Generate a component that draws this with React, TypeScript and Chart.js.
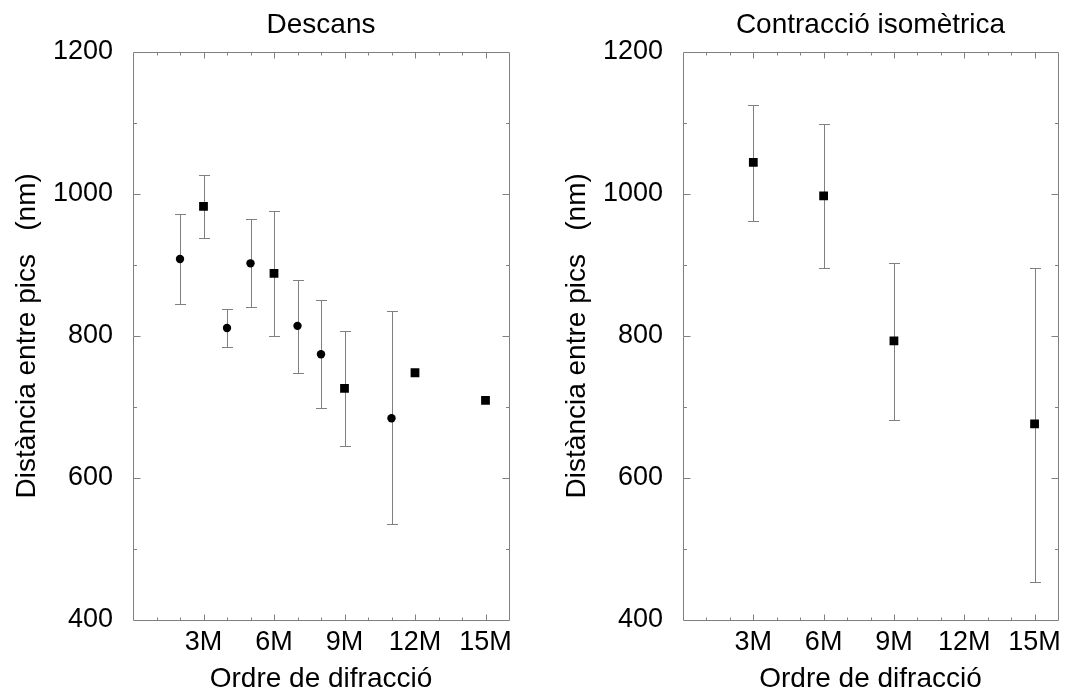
import React, { useEffect, useRef } from "react";
import { Chart, registerables } from "chart.js";

Chart.register(...registerables);

const FONT = "'Liberation Sans', Arial, Helvetica, sans-serif";

// Axis definitions
const xMin = 0;
const xMax = 16;
const xMinorStep = 1;
const xTickValues = [3, 6, 9, 12, 15];
const xTickLabels = ["3M", "6M", "9M", "12M", "15M"];
const yMin = 400;
const yMax = 1200;
const yMajorStep = 200;
const yMinorStep = 100;

const xTitle = "Ordre de difracció";
const yTitle = "Distància entre pics   (nm)";

// Left panel: Descans
const restTitle = "Descans";
const restCircleX = [2, 4, 5, 7, 8, 11];
const restCircleY = [908, 811, 902, 814, 774, 684];
const restCircleLo = [845, 784, 840, 748, 698, 535];
const restCircleHi = [971, 838, 965, 878, 850, 835];

const restSquareX = [3, 6, 9, 12, 15];
const restSquareY = [982, 888, 726, 748, 709];
const restSquareLo = [937, 800, 645, 748, 709];
const restSquareHi = [1027, 976, 807, 748, 709];

// Right panel: Contracció isomètrica
const isoTitle = "Contracció isomètrica";
const isoSquareX = [3, 6, 9, 15];
const isoSquareY = [1044, 997, 793, 676];
const isoSquareLo = [962, 896, 682, 453];
const isoSquareHi = [1125, 1098, 903, 896];

const GRAY = "#808080";

const errorBarPlugin = {
  id: "errorBars",
  beforeDatasetsDraw(chart: any) {
    const ctx = chart.ctx;
    const xs = chart.scales.x;
    const ys = chart.scales.y;
    ctx.save();
    ctx.strokeStyle = GRAY;
    ctx.lineWidth = 1;
    chart.data.datasets.forEach((ds: any) => {
      const lo = ds.errLo || [];
      const hi = ds.errHi || [];
      ds.data.forEach((p: any, i: number) => {
        if (hi[i] === lo[i]) return;
        const px = Math.round(xs.getPixelForValue(p.x)) + 0.5;
        const y1 = Math.round(ys.getPixelForValue(hi[i])) + 0.5;
        const y2 = Math.round(ys.getPixelForValue(lo[i])) + 0.5;
        ctx.beginPath();
        ctx.moveTo(px, y1);
        ctx.lineTo(px, y2);
        ctx.moveTo(px - 5.5, y1);
        ctx.lineTo(px + 5.5, y1);
        ctx.moveTo(px - 5.5, y2);
        ctx.lineTo(px + 5.5, y2);
        ctx.stroke();
      });
    });
    ctx.restore();
  },
};

const framePlugin = {
  id: "frameTicks",
  afterDatasetsDraw(chart: any) {
    const ctx = chart.ctx;
    const xs = chart.scales.x;
    const ys = chart.scales.y;
    const { left, right, top, bottom } = chart.chartArea;
    const L = Math.round(left) + 0.5;
    const R = Math.round(right) + 0.5;
    const T = Math.round(top) + 0.5;
    const B = Math.round(bottom) + 0.5;
    ctx.save();
    ctx.strokeStyle = GRAY;
    ctx.lineWidth = 1;
    ctx.beginPath();
    ctx.moveTo(L, T);
    ctx.lineTo(R, T);
    ctx.lineTo(R, B);
    ctx.lineTo(L, B);
    ctx.closePath();
    for (let v = xMin + xMinorStep; v < xMax; v += xMinorStep) {
      const px = Math.round(xs.getPixelForValue(v)) + 0.5;
      const len = xTickValues.includes(v) ? 6 : 3;
      ctx.moveTo(px, B);
      ctx.lineTo(px, B - len);
      ctx.moveTo(px, T);
      ctx.lineTo(px, T + len);
    }
    for (let v = yMin + yMinorStep; v < yMax; v += yMinorStep) {
      const py = Math.round(ys.getPixelForValue(v)) + 0.5;
      const len = v % yMajorStep === 0 ? 7 : 3.5;
      ctx.moveTo(L, py);
      ctx.lineTo(L + len, py);
      ctx.moveTo(R, py);
      ctx.lineTo(R - len, py);
    }
    ctx.stroke();
    ctx.restore();
  },
};

type Series = {
  x: number[];
  y: number[];
  lo: number[];
  hi: number[];
  style: "circle" | "rect";
};

type PanelProps = {
  left: number;
  width: number;
  yAxisWidth: number;
  padRight: number;
  yTitlePad: number;
  title: string;
  series: Series[];
};

function Panel({ left, width, yAxisWidth, padRight, yTitlePad, title, series }: PanelProps) {
  const ref = useRef<HTMLCanvasElement | null>(null);
  useEffect(() => {
    if (!ref.current) return;
    const datasets = series.map((s) => ({
      type: "scatter" as const,
      data: s.x.map((xv, i) => ({ x: xv, y: s.y[i] })),
      errLo: s.lo,
      errHi: s.hi,
      pointStyle: s.style,
      pointRadius: s.style === "rect" ? 6.2 : 4.2,
      pointBackgroundColor: "#000000",
      pointBorderColor: "#000000",
      pointBorderWidth: 0,
      showLine: false,
    }));
    const chart = new Chart(ref.current, {
      type: "scatter",
      data: { datasets: datasets as any },
      options: {
        animation: false,
        responsive: false,
        devicePixelRatio: 1,
        layout: { padding: { left: 0, right: padRight, top: 0, bottom: 0 } },
        plugins: {
          legend: { display: false },
          tooltip: { enabled: false },
          title: {
            display: true,
            text: title,
            fullSize: false,
            color: "#000",
            font: { family: FONT, size: 28, weight: "normal" as any },
            padding: { top: 8, bottom: 10 },
          },
        },
        scales: {
          x: {
            type: "linear",
            min: xMin,
            max: xMax,
            grid: { display: false, drawTicks: false },
            border: { display: false },
            afterFit: (s: any) => {
              s.height = 73;
            },
            ticks: {
              stepSize: xMinorStep,
              autoSkip: false,
              maxRotation: 0,
              minRotation: 0,
              padding: 6,
              color: "#000",
              font: { family: FONT, size: 27 },
              callback: (v: any) => {
                const i = xTickValues.indexOf(Number(v));
                return i >= 0 ? xTickLabels[i] : "";
              },
            },
            title: {
              display: true,
              text: xTitle,
              color: "#000",
              font: { family: FONT, size: 28 },
              padding: { top: 0, bottom: -3 },
            },
          },
          y: {
            type: "linear",
            min: yMin,
            max: yMax,
            grid: { display: false, drawTicks: false },
            border: { display: false },
            afterFit: (s: any) => {
              s.width = yAxisWidth;
            },
            ticks: {
              stepSize: yMajorStep,
              padding: 20,
              color: "#000",
              font: { family: FONT, size: 27 },
              callback: (v: any) => String(v),
            },
            title: {
              display: true,
              text: yTitle,
              color: "#000",
              font: { family: FONT, size: 28 },
              padding: { top: yTitlePad, bottom: 0 },
            },
          },
        },
      },
      plugins: [errorBarPlugin, framePlugin],
    });
    return () => chart.destroy();
  }, []);
  return (
    <canvas
      ref={ref}
      width={width}
      height={693}
      style={{ position: "absolute", left, top: 0, width, height: 693 }}
    />
  );
}

export default function App() {
  const restSeries: Series[] = [
    { x: restCircleX, y: restCircleY, lo: restCircleLo, hi: restCircleHi, style: "circle" },
    { x: restSquareX, y: restSquareY, lo: restSquareLo, hi: restSquareHi, style: "rect" },
  ];
  const isoSeries: Series[] = [
    { x: isoSquareX, y: isoSquareY, lo: isoSquareLo, hi: isoSquareHi, style: "rect" },
  ];
  return (
    <div style={{ position: "absolute", left: 0, top: 0, width: 1066, height: 693, background: "#fff" }}>
      <Panel left={0} width={533} yAxisWidth={133} padRight={24} yTitlePad={10} title={restTitle} series={restSeries} />
      <Panel left={533} width={533} yAxisWidth={150} padRight={8} yTitlePad={27} title={isoTitle} series={isoSeries} />
    </div>
  );
}
